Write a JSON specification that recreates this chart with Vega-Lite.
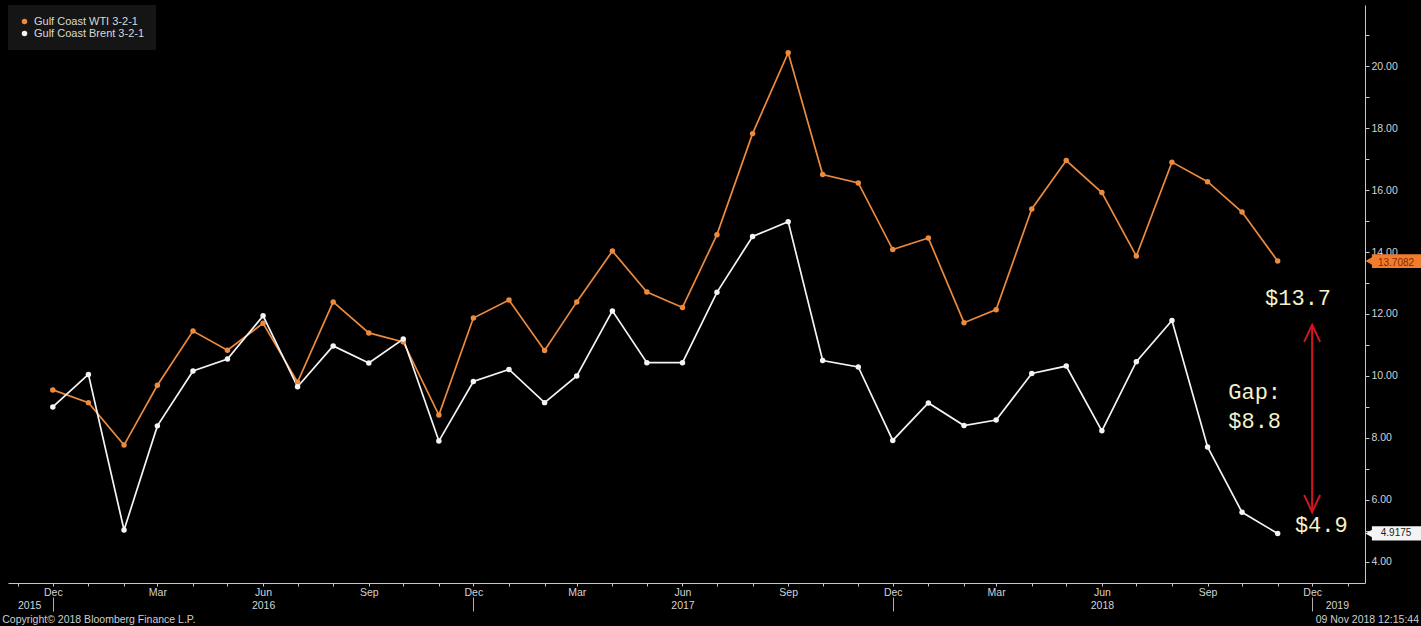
{
  "$schema": "https://vega.github.io/schema/vega-lite/v6.json",
  "width": 1357,
  "height": 578,
  "autosize": {"type": "none"},
  "padding": {"left": 8, "top": 5, "right": 56, "bottom": 43},
  "background": "#000000",
  "config": {
    "view": {"stroke": null, "fill": "#000000"},
    "font": "Liberation Sans",
    "axis": {"grid": false, "labelColor": "#d4d4d4", "labelFont": "Liberation Sans", "labelFontSize": 10, "domainColor": "#c8c8c8", "tickColor": "#c8c8c8"}
  },
  "datasets": {
    "spreads": [
      {"month": "2015-12-01", "series": "Gulf Coast WTI 3-2-1", "value": 9.55},
      {"month": "2016-01-01", "series": "Gulf Coast WTI 3-2-1", "value": 9.14},
      {"month": "2016-02-01", "series": "Gulf Coast WTI 3-2-1", "value": 7.77},
      {"month": "2016-03-01", "series": "Gulf Coast WTI 3-2-1", "value": 9.70},
      {"month": "2016-04-01", "series": "Gulf Coast WTI 3-2-1", "value": 11.45},
      {"month": "2016-05-01", "series": "Gulf Coast WTI 3-2-1", "value": 10.83},
      {"month": "2016-06-01", "series": "Gulf Coast WTI 3-2-1", "value": 11.70},
      {"month": "2016-07-01", "series": "Gulf Coast WTI 3-2-1", "value": 9.80},
      {"month": "2016-08-01", "series": "Gulf Coast WTI 3-2-1", "value": 12.39},
      {"month": "2016-09-01", "series": "Gulf Coast WTI 3-2-1", "value": 11.39},
      {"month": "2016-10-01", "series": "Gulf Coast WTI 3-2-1", "value": 11.10},
      {"month": "2016-11-01", "series": "Gulf Coast WTI 3-2-1", "value": 8.74},
      {"month": "2016-12-01", "series": "Gulf Coast WTI 3-2-1", "value": 11.87},
      {"month": "2017-01-01", "series": "Gulf Coast WTI 3-2-1", "value": 12.45},
      {"month": "2017-02-01", "series": "Gulf Coast WTI 3-2-1", "value": 10.82},
      {"month": "2017-03-01", "series": "Gulf Coast WTI 3-2-1", "value": 12.39},
      {"month": "2017-04-01", "series": "Gulf Coast WTI 3-2-1", "value": 14.03},
      {"month": "2017-05-01", "series": "Gulf Coast WTI 3-2-1", "value": 12.71},
      {"month": "2017-06-01", "series": "Gulf Coast WTI 3-2-1", "value": 12.21},
      {"month": "2017-07-01", "series": "Gulf Coast WTI 3-2-1", "value": 14.56},
      {"month": "2017-08-01", "series": "Gulf Coast WTI 3-2-1", "value": 17.82},
      {"month": "2017-09-01", "series": "Gulf Coast WTI 3-2-1", "value": 20.43},
      {"month": "2017-10-01", "series": "Gulf Coast WTI 3-2-1", "value": 16.50},
      {"month": "2017-11-01", "series": "Gulf Coast WTI 3-2-1", "value": 16.23},
      {"month": "2017-12-01", "series": "Gulf Coast WTI 3-2-1", "value": 14.08},
      {"month": "2018-01-01", "series": "Gulf Coast WTI 3-2-1", "value": 14.45},
      {"month": "2018-02-01", "series": "Gulf Coast WTI 3-2-1", "value": 11.72},
      {"month": "2018-03-01", "series": "Gulf Coast WTI 3-2-1", "value": 12.14},
      {"month": "2018-04-01", "series": "Gulf Coast WTI 3-2-1", "value": 15.39},
      {"month": "2018-05-01", "series": "Gulf Coast WTI 3-2-1", "value": 16.95},
      {"month": "2018-06-01", "series": "Gulf Coast WTI 3-2-1", "value": 15.92},
      {"month": "2018-07-01", "series": "Gulf Coast WTI 3-2-1", "value": 13.87},
      {"month": "2018-08-01", "series": "Gulf Coast WTI 3-2-1", "value": 16.90},
      {"month": "2018-09-01", "series": "Gulf Coast WTI 3-2-1", "value": 16.27},
      {"month": "2018-10-01", "series": "Gulf Coast WTI 3-2-1", "value": 15.29},
      {"month": "2018-11-01", "series": "Gulf Coast WTI 3-2-1", "value": 13.7082},
      {"month": "2015-12-01", "series": "Gulf Coast Brent 3-2-1", "value": 9.00},
      {"month": "2016-01-01", "series": "Gulf Coast Brent 3-2-1", "value": 10.05},
      {"month": "2016-02-01", "series": "Gulf Coast Brent 3-2-1", "value": 5.03},
      {"month": "2016-03-01", "series": "Gulf Coast Brent 3-2-1", "value": 8.39},
      {"month": "2016-04-01", "series": "Gulf Coast Brent 3-2-1", "value": 10.16},
      {"month": "2016-05-01", "series": "Gulf Coast Brent 3-2-1", "value": 10.55},
      {"month": "2016-06-01", "series": "Gulf Coast Brent 3-2-1", "value": 11.94},
      {"month": "2016-07-01", "series": "Gulf Coast Brent 3-2-1", "value": 9.65},
      {"month": "2016-08-01", "series": "Gulf Coast Brent 3-2-1", "value": 10.97},
      {"month": "2016-09-01", "series": "Gulf Coast Brent 3-2-1", "value": 10.42},
      {"month": "2016-10-01", "series": "Gulf Coast Brent 3-2-1", "value": 11.19},
      {"month": "2016-11-01", "series": "Gulf Coast Brent 3-2-1", "value": 7.90},
      {"month": "2016-12-01", "series": "Gulf Coast Brent 3-2-1", "value": 9.82},
      {"month": "2017-01-01", "series": "Gulf Coast Brent 3-2-1", "value": 10.21},
      {"month": "2017-02-01", "series": "Gulf Coast Brent 3-2-1", "value": 9.14},
      {"month": "2017-03-01", "series": "Gulf Coast Brent 3-2-1", "value": 10.00},
      {"month": "2017-04-01", "series": "Gulf Coast Brent 3-2-1", "value": 12.10},
      {"month": "2017-05-01", "series": "Gulf Coast Brent 3-2-1", "value": 10.43},
      {"month": "2017-06-01", "series": "Gulf Coast Brent 3-2-1", "value": 10.43},
      {"month": "2017-07-01", "series": "Gulf Coast Brent 3-2-1", "value": 12.70},
      {"month": "2017-08-01", "series": "Gulf Coast Brent 3-2-1", "value": 14.50},
      {"month": "2017-09-01", "series": "Gulf Coast Brent 3-2-1", "value": 14.98},
      {"month": "2017-10-01", "series": "Gulf Coast Brent 3-2-1", "value": 10.50},
      {"month": "2017-11-01", "series": "Gulf Coast Brent 3-2-1", "value": 10.29},
      {"month": "2017-12-01", "series": "Gulf Coast Brent 3-2-1", "value": 7.92},
      {"month": "2018-01-01", "series": "Gulf Coast Brent 3-2-1", "value": 9.13},
      {"month": "2018-02-01", "series": "Gulf Coast Brent 3-2-1", "value": 8.40},
      {"month": "2018-03-01", "series": "Gulf Coast Brent 3-2-1", "value": 8.58},
      {"month": "2018-04-01", "series": "Gulf Coast Brent 3-2-1", "value": 10.08},
      {"month": "2018-05-01", "series": "Gulf Coast Brent 3-2-1", "value": 10.32},
      {"month": "2018-06-01", "series": "Gulf Coast Brent 3-2-1", "value": 8.23},
      {"month": "2018-07-01", "series": "Gulf Coast Brent 3-2-1", "value": 10.46},
      {"month": "2018-08-01", "series": "Gulf Coast Brent 3-2-1", "value": 11.79},
      {"month": "2018-09-01", "series": "Gulf Coast Brent 3-2-1", "value": 7.71},
      {"month": "2018-10-01", "series": "Gulf Coast Brent 3-2-1", "value": 5.60},
      {"month": "2018-11-01", "series": "Gulf Coast Brent 3-2-1", "value": 4.9175}
    ],
    "one": [{}]
  },
  "resolve": {"axis": {"x": "independent", "y": "independent"}, "legend": {"color": "independent"}},
  "layer": [
    {
      "data": {"name": "spreads"},
      "mark": {"type": "line", "strokeWidth": 1.7},
      "encoding": {
        "x": {
          "field": "month", "type": "temporal",
          "scale": {"type": "utc", "domain": [{"year": 2015, "month": 10, "date": 23, "utc": true}, {"year": 2019, "month": 1, "date": 16, "utc": true}]},
          "axis": {"orient": "bottom", "title": null, "tickCount": {"interval": "month", "step": 1}, "labelExpr": "utcmonth(datum.value) % 3 == 2 ? utcFormat(datum.value, '%b') : ''", "tickSize": 3, "labelPadding": 1, "labelOverlap": false, "labelFlush": false, "labelFontSize": 10.5}
        },
        "y": {
          "field": "value", "type": "quantitative",
          "scale": {"domain": [3.32, 21.97], "nice": false, "zero": false},
          "axis": {"orient": "right", "title": null, "values": [4, 5, 6, 7, 8, 9, 10, 11, 12, 13, 14, 15, 16, 17, 18, 19, 20, 21], "labelExpr": "datum.value % 2 == 0 ? format(datum.value, '.2f') : ''", "tickSize": 4, "labelPadding": 2, "labelOverlap": false, "labelFlush": false, "labelFontSize": 10.5}
        },
        "color": {
          "field": "series", "type": "nominal",
          "scale": {"domain": ["Gulf Coast WTI 3-2-1", "Gulf Coast Brent 3-2-1"], "range": ["#ec8a3e", "#f4f4f4"]},
          "legend": null
        }
      }
    },
    {
      "data": {"name": "spreads"},
      "mark": {"type": "point", "filled": true, "size": 30, "opacity": 1},
      "encoding": {
        "x": {"field": "month", "type": "temporal", "scale": {"type": "utc"}, "axis": null},
        "y": {"field": "value", "type": "quantitative", "axis": null},
        "color": {
          "field": "series", "type": "nominal",
          "legend": {"orient": "top-left", "title": null, "offset": 0, "padding": 11, "fillColor": "#151515", "labelColor": "#d8d8d8", "labelFontSize": 11, "labelFont": "Liberation Sans", "symbolType": "circle", "symbolSize": 30, "symbolStrokeWidth": 0, "rowPadding": 0, "labelOffset": 4}
        }
      }
    },
    {
      "data": {"name": "one"},
      "mark": {"type": "rule", "stroke": "#d4141e", "strokeWidth": 2},
      "encoding": {
        "x": {
          "datum": {"year": 2018, "month": 12, "date": 1, "utc": true}, "type": "temporal", "scale": {"type": "utc"},
          "axis": {
            "orient": "bottom", "title": null, "offset": 14, "domain": false,
            "values": [{"year": 2015, "month": 12, "date": 1, "utc": true}, {"year": 2016, "month": 6, "date": 1, "utc": true}, {"year": 2016, "month": 12, "date": 1, "utc": true}, {"year": 2017, "month": 6, "date": 1, "utc": true}, {"year": 2017, "month": 12, "date": 1, "utc": true}, {"year": 2018, "month": 6, "date": 1, "utc": true}, {"year": 2018, "month": 12, "date": 1, "utc": true}],
            "tickSize": 14, "tickColor": "#b0b0b0",
            "tickOpacity": {"condition": {"test": "utcmonth(datum.value) == 11", "value": 1}, "value": 0},
            "labelExpr": "utcmonth(datum.value) == 5 ? utcFormat(datum.value, '%Y') : (utcyear(datum.value) == 2015 ? '2015' : (utcyear(datum.value) == 2018 ? '2019' : ''))",
            "labelAlign": {"condition": [{"test": "utcyear(datum.value) == 2015", "value": "right"}, {"test": "utcyear(datum.value) == 2018 && utcmonth(datum.value) == 11", "value": "left"}], "value": "center"},
            "labelOffset": {"condition": [{"test": "utcyear(datum.value) == 2015", "value": -12}, {"test": "utcyear(datum.value) == 2018 && utcmonth(datum.value) == 11", "value": 13}], "value": 0},
            "labelPadding": -11, "labelOverlap": false, "labelFlush": false, "labelFontSize": 10.5
          }
        },
        "y": {"datum": 11.65, "type": "quantitative", "axis": null},
        "y2": {"datum": 5.61}
      }
    },
    {
      "data": {"name": "one"},
      "mark": {"type": "point", "shape": "M -0.47 1 L 0 0 L 0.47 1", "filled": false, "stroke": "#d4141e", "strokeWidth": 2, "size": 1156, "opacity": 1},
      "encoding": {
        "x": {"datum": {"year": 2018, "month": 12, "date": 1, "utc": true}, "type": "temporal", "scale": {"type": "utc"}, "axis": null},
        "y": {"datum": 11.65, "type": "quantitative", "axis": null}
      }
    },
    {
      "data": {"name": "one"},
      "mark": {"type": "point", "shape": "M -0.47 -1 L 0 0 L 0.47 -1", "filled": false, "stroke": "#d4141e", "strokeWidth": 2, "size": 1156, "opacity": 1},
      "encoding": {
        "x": {"datum": {"year": 2018, "month": 12, "date": 1, "utc": true}, "type": "temporal", "scale": {"type": "utc"}, "axis": null},
        "y": {"datum": 5.61, "type": "quantitative", "axis": null}
      }
    },
    {
      "data": {"name": "one"},
      "mark": {"type": "text", "text": "$13.7", "align": "left", "baseline": "middle", "font": "Liberation Mono", "fontSize": 22, "fill": "#f5f1c8"},
      "encoding": {
        "x": {"datum": {"year": 2018, "month": 10, "date": 21, "utc": true}, "type": "temporal", "scale": {"type": "utc"}, "axis": null},
        "y": {"datum": 12.52, "type": "quantitative", "axis": null}
      }
    },
    {
      "data": {"name": "one"},
      "mark": {"type": "text", "text": "Gap:", "align": "left", "baseline": "middle", "font": "Liberation Mono", "fontSize": 22, "fill": "#f5f1c8"},
      "encoding": {
        "x": {"datum": {"year": 2018, "month": 9, "date": 19, "utc": true}, "type": "temporal", "scale": {"type": "utc"}, "axis": null},
        "y": {"datum": 9.48, "type": "quantitative", "axis": null}
      }
    },
    {
      "data": {"name": "one"},
      "mark": {"type": "text", "text": "$8.8", "align": "left", "baseline": "middle", "font": "Liberation Mono", "fontSize": 22, "fill": "#f5f1c8"},
      "encoding": {
        "x": {"datum": {"year": 2018, "month": 9, "date": 19, "utc": true}, "type": "temporal", "scale": {"type": "utc"}, "axis": null},
        "y": {"datum": 8.55, "type": "quantitative", "axis": null}
      }
    },
    {
      "data": {"name": "one"},
      "mark": {"type": "text", "text": "$4.9", "align": "left", "baseline": "middle", "font": "Liberation Mono", "fontSize": 22, "fill": "#f5f1c8"},
      "encoding": {
        "x": {"datum": {"year": 2018, "month": 11, "date": 16, "utc": true}, "type": "temporal", "scale": {"type": "utc"}, "axis": null},
        "y": {"datum": 5.19, "type": "quantitative", "axis": null}
      }
    },
    {
      "data": {"name": "one"},
      "mark": {"type": "rect", "fill": "#f07d2e"},
      "encoding": {
        "x": {"datum": {"year": 2019, "month": 1, "date": 22, "utc": true}, "type": "temporal", "scale": {"type": "utc"}, "axis": null},
        "x2": {"datum": {"year": 2019, "month": 3, "date": 6, "utc": true}},
        "y": {"datum": 13.93, "type": "quantitative", "axis": null},
        "y2": {"datum": 13.48}
      }
    },
    {
      "data": {"name": "one"},
      "mark": {"type": "point", "shape": "triangle-left", "filled": true, "fill": "#f07d2e", "size": 90, "opacity": 1, "strokeWidth": 0},
      "encoding": {
        "x": {"datum": {"year": 2019, "month": 1, "date": 20, "utc": true}, "type": "temporal", "scale": {"type": "utc"}, "axis": null},
        "y": {"datum": 13.7082, "type": "quantitative", "axis": null}
      }
    },
    {
      "data": {"name": "one"},
      "mark": {"type": "text", "text": "13.7082", "align": "center", "baseline": "middle", "font": "Liberation Sans", "fontSize": 10, "fill": "#8a2600"},
      "encoding": {
        "x": {"datum": {"year": 2019, "month": 2, "date": 12, "utc": true}, "type": "temporal", "scale": {"type": "utc"}, "axis": null},
        "y": {"datum": 13.66, "type": "quantitative", "axis": null}
      }
    },
    {
      "data": {"name": "one"},
      "mark": {"type": "rect", "fill": "#f4f4f4"},
      "encoding": {
        "x": {"datum": {"year": 2019, "month": 1, "date": 22, "utc": true}, "type": "temporal", "scale": {"type": "utc"}, "axis": null},
        "x2": {"datum": {"year": 2019, "month": 3, "date": 6, "utc": true}},
        "y": {"datum": 5.15, "type": "quantitative", "axis": null},
        "y2": {"datum": 4.69}
      }
    },
    {
      "data": {"name": "one"},
      "mark": {"type": "point", "shape": "triangle-left", "filled": true, "fill": "#f4f4f4", "size": 90, "opacity": 1, "strokeWidth": 0},
      "encoding": {
        "x": {"datum": {"year": 2019, "month": 1, "date": 20, "utc": true}, "type": "temporal", "scale": {"type": "utc"}, "axis": null},
        "y": {"datum": 4.9175, "type": "quantitative", "axis": null}
      }
    },
    {
      "data": {"name": "one"},
      "mark": {"type": "text", "text": "4.9175", "align": "center", "baseline": "middle", "font": "Liberation Sans", "fontSize": 10, "fill": "#222222"},
      "encoding": {
        "x": {"datum": {"year": 2019, "month": 2, "date": 12, "utc": true}, "type": "temporal", "scale": {"type": "utc"}, "axis": null},
        "y": {"datum": 4.9175, "type": "quantitative", "axis": null}
      }
    },
    {
      "data": {"name": "one"},
      "mark": {"type": "text", "text": "Copyright\u00a9 2018 Bloomberg Finance L.P.", "align": "left", "baseline": "middle", "font": "Liberation Sans", "fontSize": 10.5, "fill": "#cfcfcf"},
      "encoding": {
        "x": {"datum": {"year": 2015, "month": 10, "date": 18, "utc": true}, "type": "temporal", "scale": {"type": "utc"}, "axis": null},
        "y": {"datum": 2.13, "type": "quantitative", "axis": null}
      }
    },
    {
      "data": {"name": "one"},
      "mark": {"type": "text", "text": "09 Nov 2018 12:15:44", "align": "right", "baseline": "middle", "font": "Liberation Sans", "fontSize": 10.5, "fill": "#cfcfcf"},
      "encoding": {
        "x": {"datum": {"year": 2019, "month": 3, "date": 4, "utc": true}, "type": "temporal", "scale": {"type": "utc"}, "axis": null},
        "y": {"datum": 2.13, "type": "quantitative", "axis": null}
      }
    }
  ]
}
